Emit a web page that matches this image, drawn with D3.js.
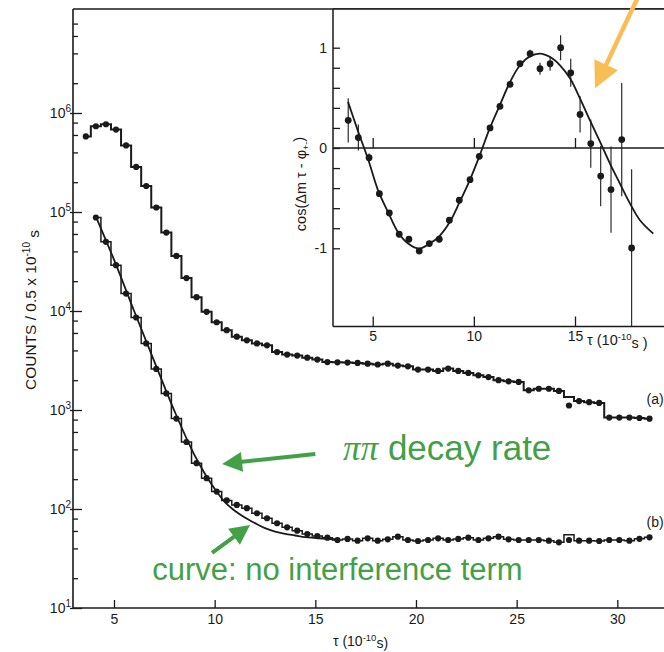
<!DOCTYPE html>
<html><head><meta charset="utf-8">
<script src="https://cdn.jsdelivr.net/npm/d3@7"></script>
<style>
body{margin:0;background:#fff}
svg{display:block}
text{font-family:"Liberation Sans",Arial,Helvetica,sans-serif;fill:#1a1a1a}
</style></head>
<body>
<svg id="c" width="664" height="652"></svg>
<script>
// ---------------- DATA ----------------
// (a) histogram: bin centres (10^-10 s) and counts per 0.5e-10 s
const tauA = [3.6,4.1,4.6,5.1,5.6,6.1,6.6,7.1,7.6,8.1,8.6,9.1,9.6,10.1,10.6,11.1,11.6,12.1,12.6,13.1,13.6,14.1,14.6,15.1,15.6,16.1,16.6,17.1,17.6,18.1,18.6,19.1,19.6,20.1,20.6,21.1,21.6,22.1,22.6,23.1,23.6,24.1,24.6,25.1,25.6,26.1,26.6,27.1,27.6,28.1,28.6,29.1,29.6,30.1,30.6,31.1,31.6];
const countsA = [5.8e5,7.35e5,7.7e5,6.8e5,4.7e5,2.85e5,1.83e5,1.11e5,6.2e4,3.6e4,2.15e4,1.38e4,9.8e3,7.7e3,6.4e3,5.5e3,5.05e3,4.7e3,4.5e3,3.85e3,3.63e3,3.55e3,3.38e3,3.23e3,3.05e3,3.03e3,3.01e3,2.99e3,2.94e3,2.88e3,2.94e3,2.81e3,2.76e3,2.56e3,2.56e3,2.48e3,2.62e3,2.48e3,2.37e3,2.24e3,2.15e3,2.0e3,1.95e3,1.92e3,1.58e3,1.64e3,1.64e3,1.56e3,1.11e3,1.23e3,1.2e3,1.18e3,838,838,838,830,818];
const histOverrideA = {"27.6": 1350};   // histogram level where the dot is off the line

// (b) histogram
const tauB = [4.1,4.6,5.1,5.6,6.1,6.6,7.1,7.6,8.1,8.6,9.1,9.6,10.1,10.6,11.1,11.6,12.1,12.6,13.1,13.6,14.1,14.6,15.1,15.6,16.1,16.6,17.1,17.6,18.1,18.6,19.1,19.6,20.1,20.6,21.1,21.6,22.1,22.6,23.1,23.6,24.1,24.6,25.1,25.6,26.1,26.6,27.1,27.6,28.1,28.6,29.1,29.6,30.1,30.6,31.1,31.6];
const countsB = [8.8e4,5.0e4,2.9e4,1.5e4,8.6e3,4.7e3,2.6e3,1.47e3,820,475,290,205,150,122,110,102,90.6,80.6,71.8,65.3,60.4,55.9,53.3,51.3,48.6,49.8,47.9,50.6,47.9,49.4,52.5,48.6,47.5,48.6,50.6,48.6,49.8,51.3,48.6,50.6,52.5,49.4,48.6,48.6,48.6,47.9,46.1,48.6,47.9,47.9,47.5,48.6,48.6,47.9,50.0,51.8];
const histOverrideB = {"27.6": 55};

// curve: no interference term
const tauNoInt = [4.1,5.0,6.0,7.0,8.0,9.0,9.5,10.0,10.5,11.0,11.5,12.0,12.5,13.0,13.5,14.0,14.5,15.0,15.5,16.0];
const countsNoInt = [9.0e4,3.3e4,1.0e4,3.1e3,980,350,230,160,118,96,82,72,64,59,56,54,52,51,50,49.5];

// inset: interference term
const tauInset = [3.79,4.29,4.82,5.33,5.82,6.31,6.79,7.30,7.80,8.29,8.79,9.28,9.81,10.27,10.80,11.29,11.79,12.28,12.78,13.27,13.77,14.29,14.79,15.25,15.78,16.27,16.78,17.31,17.80];
const cosVals = [0.276,0.104,-0.096,-0.455,-0.648,-0.86,-0.91,-1.027,-0.953,-0.91,-0.72,-0.52,-0.316,-0.083,0.2,0.416,0.635,0.84,0.94,0.79,0.84,1.0,0.75,0.335,0.044,-0.28,-0.415,0.084,-0.997];
const cosErr = [0.22,0.13,0.04,0.03,0.03,0.03,0.03,0.03,0.03,0.03,0.03,0.03,0.03,0.03,0.03,0.03,0.03,0.03,0.04,0.06,0.07,0.125,0.14,0.18,0.24,0.3,0.43,0.565,0.785];
const tauFit = [3.78,4.27,4.77,5.26,5.76,6.25,6.75,7.29,7.82,8.31,8.81,9.3,9.8,10.29,10.78,11.28,11.79,12.28,12.78,13.27,13.77,14.26,14.76,15.25,15.74,16.24,16.73,17.22,17.72,18.21,18.87];
const cosFit = [0.46,0.17,-0.11,-0.42,-0.64,-0.84,-0.953,-1.003,-0.953,-0.875,-0.738,-0.538,-0.32,-0.073,0.193,0.426,0.658,0.825,0.914,0.941,0.907,0.825,0.692,0.492,0.276,0.06,-0.156,-0.355,-0.554,-0.72,-0.853];

// ticks
const xTicksMain = [5,10,15,20,25,30];
const yTicksMain = [1e1,1e2,1e3,1e4,1e5,1e6];
const yMinorMain = [2e1,4e1,6e1,8e1,2e2,4e2,6e2,8e2,2e3,4e3,6e3,8e3,2e4,4e4,6e4,8e4,2e5,4e5,6e5,8e5,2e6,4e6,6e6,8e6];
const xTicksInset = [5,10,15];
const yTicksInset = [-1,0,1];
const yMinorInset = [-0.8,-0.6,-0.4,-0.2,0.2,0.4,0.6,0.8];

// annotations (data coordinates)
const noteDecay = {tau:16.38, count:313};
const noteCurve = {tau:6.9, count:19.2};
const arrowDecay = {from:[15.0,360], to:[10.37,285]};
const arrowCurve = {from:[9.87,36], to:[11.76,69]};
const arrowInset = {from:[18.1,1.5], to:[15.99,0.595]};

// ---------------- LAYOUT ----------------
const svg = d3.select("#c");
const INK = "#1a1a1a", GREEN = "#44a047", ORANGE = "#f9bd55";
const frame = {left:73, top:9, bottom:608, right:664};
const x = d3.scaleLinear().domain([5,30]).range([114,617.3]);
const y = d3.scaleLog().domain([10,1e6]).range([608,113]);

// frame lines
svg.append("line").attr("x1",frame.left).attr("x2",frame.left).attr("y1",frame.top).attr("y2",frame.bottom).attr("stroke",INK).attr("stroke-width",1.6);
svg.append("line").attr("x1",frame.left).attr("x2",frame.right).attr("y1",frame.bottom).attr("y2",frame.bottom).attr("stroke",INK).attr("stroke-width",1.6);
svg.append("line").attr("x1",frame.left).attr("x2",frame.right).attr("y1",frame.top).attr("y2",frame.top).attr("stroke",INK).attr("stroke-width",1.4);

// main y axis
function styleAxis(g){ g.select(".domain").remove(); g.selectAll(".tick line").attr("stroke",INK).attr("stroke-width",1.3);
  g.attr("font-family","Liberation Sans, Arial, sans-serif").attr("font-size",14); g.selectAll("text").attr("fill",INK); }
const gYm = svg.append("g").attr("transform",`translate(${frame.left},0)`)
  .call(d3.axisLeft(y).tickValues(yMinorMain).tickSizeInner(-5).tickSizeOuter(0).tickFormat(()=>""));
styleAxis(gYm);
const gYo = svg.append("g").attr("transform",`translate(${frame.left},0)`)
  .call(d3.axisLeft(y).tickValues(yTicksMain).tickSizeInner(3).tickSizeOuter(0).tickFormat(()=>""));
styleAxis(gYo);
const gY = svg.append("g").attr("transform",`translate(${frame.left},0)`)
  .call(d3.axisLeft(y).tickValues(yTicksMain).tickSizeInner(-9).tickSizeOuter(0).tickPadding(2).tickFormat(()=>""));
styleAxis(gY);
gY.selectAll(".tick text").each(function(d){
  const t = d3.select(this);
  t.append("tspan").text("10");
  t.append("tspan").attr("dy","-0.55em").attr("font-size","10px").text(Math.round(Math.log10(d)));
});

// main x axis
const gX = svg.append("g").attr("transform",`translate(0,${frame.bottom})`)
  .call(d3.axisBottom(x).tickValues(xTicksMain).tickSizeInner(-8).tickSizeOuter(0).tickPadding(6));
styleAxis(gX);

// axis titles
const yl = svg.append("text").attr("transform","translate(36,310) rotate(-90)").attr("text-anchor","middle").attr("font-size",15.5);
yl.append("tspan").text("COUNTS / 0.5 x 10");
yl.append("tspan").attr("dy","-0.6em").attr("font-size","10px").text("-10");
yl.append("tspan").attr("dy","0.6em").text(" s");
const xl = svg.append("text").attr("x",333).attr("y",646).attr("font-size",14);
xl.append("tspan").text("τ (10");
xl.append("tspan").attr("dy","-0.55em").attr("font-size","9.5px").text("-10");
xl.append("tspan").attr("dy","0.55em").text("s)");

// ---------------- MAIN DATA ----------------
const dataA = tauA.map((t,i)=>({t, c:countsA[i], h: histOverrideA[t] ?? countsA[i]}));
const dataB = tauB.map((t,i)=>({t, c:countsB[i], h: histOverrideB[t] ?? countsB[i]}));
const stepLine = d3.line().x(d=>x(d.t)).y(d=>y(d.h)).curve(d3.curveStep);

svg.append("path").datum(dataA).attr("d",stepLine).attr("fill","none").attr("stroke",INK).attr("stroke-width",2);
svg.append("path").datum(dataB).attr("d",stepLine).attr("fill","none").attr("stroke",INK).attr("stroke-width",1.5);

const noInt = tauNoInt.map((t,i)=>({t, c:countsNoInt[i]}));
svg.append("path").datum(noInt)
  .attr("d", d3.line().x(d=>x(d.t)).y(d=>y(d.c)).curve(d3.curveMonotoneX))
  .attr("fill","none").attr("stroke",INK).attr("stroke-width",1.8);

svg.append("g").selectAll("circle").data(dataA).join("circle")
  .attr("cx",d=>x(d.t)).attr("cy",d=>y(d.c)).attr("r",3.1).attr("fill",INK);
svg.append("g").selectAll("circle").data(dataB).join("circle")
  .attr("cx",d=>x(d.t)).attr("cy",d=>y(d.c)).attr("r",3.1).attr("fill",INK);

svg.append("text").attr("x",x(31.45)).attr("y",y(1150)).attr("font-size",14).text("(a)");
svg.append("text").attr("x",x(31.45)).attr("y",y(66)).attr("font-size",14).text("(b)");

// ---------------- INSET ----------------
const inset = {left:333, top:9, bottom:326.5, right:664};
const ix = d3.scaleLinear().domain([5,15]).range([372.7,575]);
const iy = d3.scaleLinear().domain([-1,1]).range([248.3,47.7]);
svg.append("rect").attr("x",inset.left).attr("y",inset.top).attr("width",inset.right-inset.left).attr("height",inset.bottom-inset.top).attr("fill","#fff");
svg.append("line").attr("x1",inset.left).attr("x2",inset.left).attr("y1",inset.top).attr("y2",inset.bottom).attr("stroke",INK).attr("stroke-width",1.5);
svg.append("line").attr("x1",inset.left).attr("x2",inset.right).attr("y1",inset.bottom).attr("y2",inset.bottom).attr("stroke",INK).attr("stroke-width",1.5);
svg.append("line").attr("x1",inset.left).attr("x2",inset.right).attr("y1",inset.top).attr("y2",inset.top).attr("stroke",INK).attr("stroke-width",1.4);
svg.append("line").attr("x1",inset.left).attr("x2",inset.right).attr("y1",iy(0)).attr("y2",iy(0)).attr("stroke",INK).attr("stroke-width",1.4);

const gIYm = svg.append("g").attr("transform",`translate(${inset.left},0)`)
  .call(d3.axisLeft(iy).tickValues(yMinorInset).tickSizeInner(-7).tickSizeOuter(0).tickFormat(()=>""));
styleAxis(gIYm);
const gIY = svg.append("g").attr("transform",`translate(${inset.left},0)`)
  .call(d3.axisLeft(iy).tickValues(yTicksInset).tickSizeInner(-7).tickSizeOuter(0).tickPadding(6).tickFormat(d=>d<0?"-"+Math.abs(d):d));
styleAxis(gIY);
const gIX = svg.append("g").attr("transform",`translate(0,${inset.bottom})`)
  .call(d3.axisBottom(ix).tickValues(xTicksInset).tickSizeInner(-10).tickSizeOuter(0).tickPadding(5));
styleAxis(gIX);
const gIX0 = svg.append("g").attr("transform",`translate(0,${iy(0)})`)
  .call(d3.axisBottom(ix).tickValues(xTicksInset).tickSizeInner(-10).tickSizeOuter(0).tickFormat(()=>""));
styleAxis(gIX0);

const il = svg.append("text").attr("transform","translate(306,184) rotate(-90)").attr("text-anchor","middle").attr("font-size",14.5);
il.append("tspan").text("cos(Δm τ - φ");
il.append("tspan").attr("dy","0.35em").attr("font-size","9px").text("+-");
il.append("tspan").attr("dy","-0.35em").text(")");
const ixl = svg.append("text").attr("x",587).attr("y",345).attr("font-size",14.5);
ixl.append("tspan").text("τ (10");
ixl.append("tspan").attr("dy","-0.55em").attr("font-size","9.5px").text("-10");
ixl.append("tspan").attr("dy","0.55em").text("s )");

const fit = tauFit.map((t,i)=>({t, v:cosFit[i]}));
svg.append("path").datum(fit)
  .attr("d", d3.line().x(d=>ix(d.t)).y(d=>iy(d.v)).curve(d3.curveCatmullRom))
  .attr("fill","none").attr("stroke",INK).attr("stroke-width",1.8);

const pts = tauInset.map((t,i)=>({t, v:cosVals[i], e:cosErr[i]}));
svg.append("g").selectAll("line").data(pts).join("line")
  .attr("x1",d=>ix(d.t)).attr("x2",d=>ix(d.t))
  .attr("y1",d=>Math.min(iy(d.v-d.e), inset.bottom)).attr("y2",d=>iy(d.v+d.e))
  .attr("stroke",INK).attr("stroke-width",1.1);
svg.append("g").selectAll("circle").data(pts).join("circle")
  .attr("cx",d=>ix(d.t)).attr("cy",d=>iy(d.v)).attr("r",3.4).attr("fill",INK);

// ---------------- ANNOTATIONS ----------------
function arrow(x1,y1,x2,y2,color,w,hl,hw){
  const dx=x2-x1, dy=y2-y1, L=Math.hypot(dx,dy), ux=dx/L, uy=dy/L;
  const bx=x2-ux*hl, by=y2-uy*hl;
  svg.append("line").attr("x1",x1).attr("y1",y1).attr("x2",bx+ux*2).attr("y2",by+uy*2)
    .attr("stroke",color).attr("stroke-width",w);
  svg.append("path").attr("d",`M${x2},${y2}L${bx-uy*hw/2},${by+ux*hw/2}L${bx+uy*hw/2},${by-ux*hw/2}Z`).attr("fill",color);
}
arrow(x(arrowDecay.from[0]),y(arrowDecay.from[1]),x(arrowDecay.to[0]),y(arrowDecay.to[1]),GREEN,4,20,20);
arrow(x(arrowCurve.from[0]),y(arrowCurve.from[1]),x(arrowCurve.to[0]),y(arrowCurve.to[1]),GREEN,4,20,20);
arrow(ix(arrowInset.from[0]),iy(arrowInset.from[1]),ix(arrowInset.to[0]),iy(arrowInset.to[1]),ORANGE,4.5,26,26);

const td = svg.append("text").attr("x",x(noteDecay.tau)).attr("y",y(noteDecay.count)).attr("font-size",35).style("fill",GREEN);
td.append("tspan").attr("font-family","Liberation Serif, DejaVu Serif, serif").attr("font-style","italic").text("ππ");
td.append("tspan").text(" decay rate");
svg.append("text").attr("x",x(noteCurve.tau)).attr("y",y(noteCurve.count)).attr("font-size",31).style("fill",GREEN)
  .text("curve: no interference term");
</script>
</body></html>
